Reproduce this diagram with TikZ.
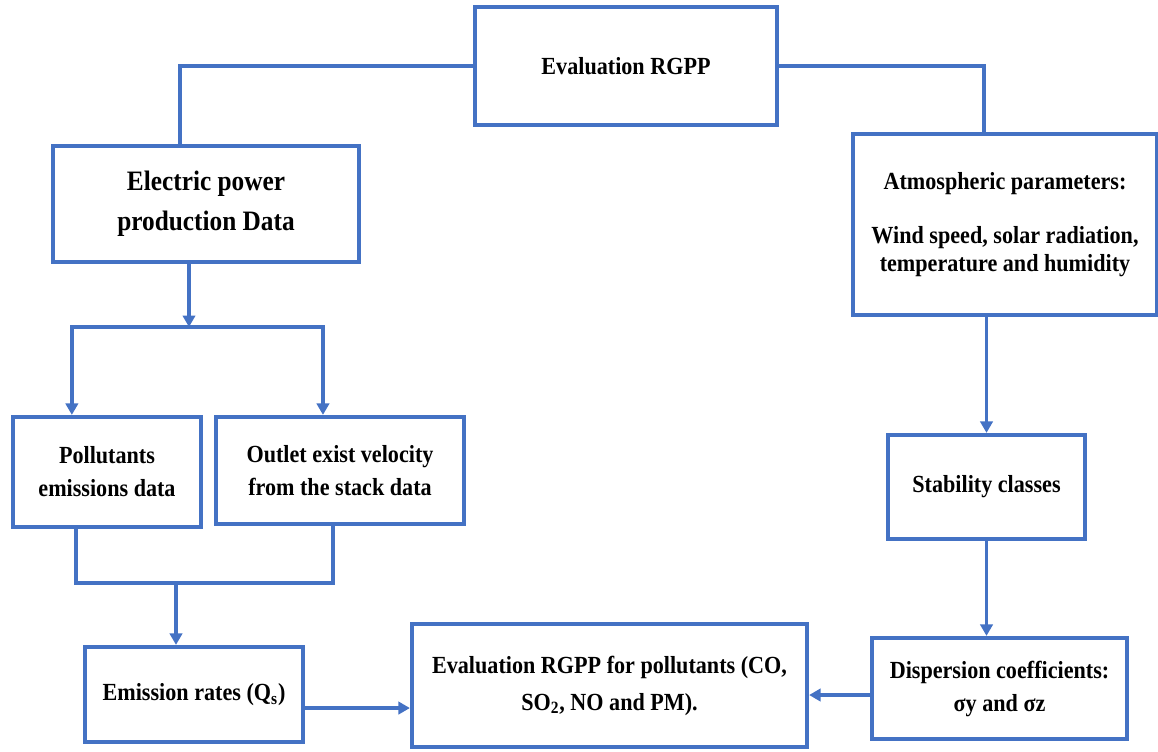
\documentclass[tikz,border=0pt]{standalone}
\usepackage{fontspec}
\setmainfont{Liberation Serif}[FakeStretch=0.9]
\usetikzlibrary{arrows.meta}
\definecolor{rgpblue}{RGB}{68,114,196}
\tikzset{
  box/.style={draw=rgpblue, line width=2.4pt, align=center, inner sep=0pt,
    font=\bfseries\fontsize{14}{18.8}\selectfont},
  bsize/.style 2 args={minimum width=#1*0.02cm, minimum height=#2*0.02cm},
  link/.style={draw=rgpblue, line width=2.2pt}
}
\begin{document}
\begin{tikzpicture}[x=0.02cm, y=-0.02cm, >={Triangle[length=6.5pt,width=7pt]}]
  \useasboundingbox (0,0) rectangle (1158,751);
  % boxes
  \node[box, bsize={302}{118}] (evl) at (626,66) {Evaluation RGPP};
  \node[box, bsize={306}{116}, font=\bfseries\fontsize{16}{23}\selectfont] (elec) at (206,204) {Electric power\\production Data};
  \node[box, bsize={304}{181}, font=\bfseries\fontsize{14}{16}\selectfont] (atm) at (1005,224.5) {Atmospheric parameters:\\[15pt]Wind speed, solar radiation,\\temperature and humidity};
  \node[box, bsize={188}{110}] (pol) at (107,472) {Pollutants\\emissions data};
  \node[box, bsize={248}{107}] (out) at (340,470.5) {Outlet exist velocity\\from the stack data};
  \node[box, bsize={197}{104}] (stab) at (986.5,487) {Stability classes};
  \node[box, bsize={255}{101}] (disp) at (999.5,688.5) {Dispersion coefficients:\\σy and σz};
  \node[box, bsize={218}{95}] (emis) at (194,694.5) {Emission rates (Q\textsubscript{s})};
  \node[box, bsize={395}{123}, font=\bfseries\fontsize{14}{21}\selectfont] (evp) at (609.5,685.5) {Evaluation RGPP for pollutants (CO,\\SO\textsubscript{2}, NO and PM).};
  \coordinate (fork) at (189,327);
  \coordinate (merge) at (176,583);
  % connectors
  \draw[link] (evl.west) -| ([xshift=-15pt]elec.north);
  \draw[link] (evl.east) -| ([xshift=-12pt]atm.north);
  \draw[link,->] (elec.south -| fork) -- (fork);
  \draw[link,->] (fork) -| ([xshift=-20pt]pol.north);
  \draw[link,->] (fork) -| ([xshift=-9.7pt]out.north);
  \draw[link] ([xshift=-17.6pt]pol.south) |- (merge) -| ([xshift=-4pt]out.south);
  \draw[link,->] (merge) -- (merge |- emis.north);
  \draw[link,->] ([yshift=-7.7pt]emis.east) coordinate (q) -- (q -| evp.west);
  \draw[link,->] (stab.north |- atm.south) -- (stab.north);
  \draw[link,->] (stab.south) -- (stab.south |- disp.north);
  \draw[link,->] ([yshift=-3.7pt]disp.west) coordinate (d) -- (d -| evp.east);
\end{tikzpicture}
\end{document}
